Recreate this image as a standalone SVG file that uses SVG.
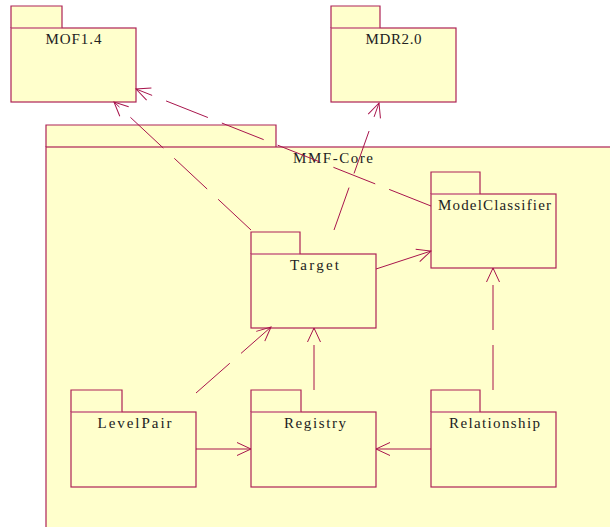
<svg xmlns="http://www.w3.org/2000/svg" width="610" height="527" viewBox="0 0 610 527">
<style>
.box{fill:#ffffcc;stroke:#ad2256;stroke-width:1.2}
.sep{stroke:#dc9aa6;stroke-width:1}
.lbl{font-family:"Liberation Serif","DejaVu Serif",serif;font-size:15px;fill:#222;text-anchor:middle}
.dep{fill:none;stroke:#a8154c;stroke-width:1;stroke-dasharray:45,15;marker-end:url(#arr)}
.sol{fill:none;stroke:#a8154c;stroke-width:1;marker-end:url(#arr)}
</style>
<defs>
<marker id="arr" viewBox="-16 -8 18 16" markerWidth="18" markerHeight="16" refX="0" refY="0" orient="auto" markerUnits="userSpaceOnUse">
<path d="M-14,-6.5 L0,0 L-14,6.5" fill="none" stroke="#a8154c" stroke-width="1" stroke-dasharray="none"/>
</marker>
</defs>
<rect width="610" height="527" fill="#ffffff"/>
<g id="MOF14">
<path class="box" d="M11,28 V6 H62 V28"/>
<rect class="box" x="11" y="28" width="125" height="74"/>
<line class="sep" x1="11.6" y1="28" x2="61.4" y2="28"/>
<text class="lbl" x="73.5" y="44" textLength="56" lengthAdjust="spacing">MOF1.4</text>
</g>
<g id="MDR20">
<path class="box" d="M331,28 V6 H380 V28"/>
<rect class="box" x="331" y="28" width="125" height="74"/>
<line class="sep" x1="331.6" y1="28" x2="379.4" y2="28"/>
<text class="lbl" x="393.5" y="44" textLength="56" lengthAdjust="spacing">MDR2.0</text>
</g>
<g id="MMFCore">
<path class="box" d="M46,147 V125 H276 V147"/>
<rect class="box" x="46" y="147" width="600" height="420"/>
<text class="lbl" x="333" y="163" textLength="80" lengthAdjust="spacing">MMF-Core</text>
</g>
<g id="ModelClassifier">
<path class="box" d="M431,194 V172 H480 V194"/>
<rect class="box" x="431" y="194" width="125" height="74"/>
<line class="sep" x1="431.6" y1="194" x2="479.4" y2="194"/>
<text class="lbl" x="494.5" y="210" textLength="113" lengthAdjust="spacing">ModelClassifier</text>
</g>
<g id="Target">
<path class="box" d="M251,254 V232 H300 V254"/>
<rect class="box" x="251" y="254" width="125" height="74"/>
<line class="sep" x1="251.6" y1="254" x2="299.4" y2="254"/>
<text class="lbl" x="314.5" y="270" textLength="49" lengthAdjust="spacing">Target</text>
</g>
<g id="LevelPair">
<path class="box" d="M71,412 V390 H122 V412"/>
<rect class="box" x="71" y="412" width="125" height="75"/>
<line class="sep" x1="71.6" y1="412" x2="121.4" y2="412"/>
<text class="lbl" x="134.5" y="428" textLength="74" lengthAdjust="spacing">LevelPair</text>
</g>
<g id="Registry">
<path class="box" d="M251,412 V390 H301 V412"/>
<rect class="box" x="251" y="412" width="125" height="75"/>
<line class="sep" x1="251.6" y1="412" x2="300.4" y2="412"/>
<text class="lbl" x="315" y="428" textLength="62" lengthAdjust="spacing">Registry</text>
</g>
<g id="Relationship">
<path class="box" d="M431,412 V390 H480 V412"/>
<rect class="box" x="431" y="412" width="125" height="75"/>
<line class="sep" x1="431.6" y1="412" x2="479.4" y2="412"/>
<text class="lbl" x="494.5" y="428" textLength="91" lengthAdjust="spacing">Relationship</text>
</g>
<g id="connectors">
<path class="dep" d="M251,230 L114,102"/>
<path class="dep" d="M431,206 L136,89"/>
<path class="dep" d="M334,230 L379,103"/>
<path class="sol" d="M376,269 L431,251"/>
<path class="dep" d="M196,393 L271,327"/>
<path class="dep" d="M314,390 L314,328"/>
<path class="dep" d="M493,390 L493,268"/>
<path class="sol" d="M196,449 L251,449"/>
<path class="sol" d="M431,449 L376,449"/>
</g>
</svg>
